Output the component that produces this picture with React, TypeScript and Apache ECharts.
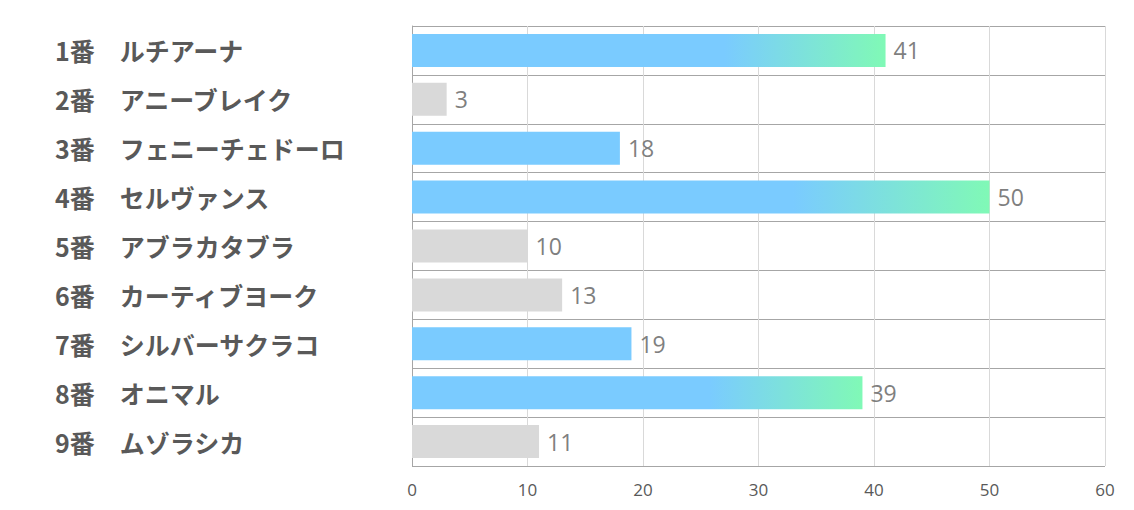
import React, { useEffect, useRef } from "react";
import * as echarts from "echarts";

const categories = [
  "1番　ルチアーナ",
  "2番　アニーブレイク",
  "3番　フェニーチェドーロ",
  "4番　セルヴァンス",
  "5番　アブラカタブラ",
  "6番　カーティブヨーク",
  "7番　シルバーサクラコ",
  "8番　オニマル",
  "9番　ムゾラシカ",
];
const values = [41, 3, 18, 50, 10, 13, 19, 39, 11];
// bar style: "grad" = blue with green fade, "blue" = plain blue, "gray" = gray
const styles = ["grad", "gray", "blue", "grad", "gray", "gray", "blue", "grad", "gray"];
const xTicks = { min: 0, max: 60, interval: 10 };

const BLUE = "#7acbff";
const GREEN = "#80f9b6";
const GRAY = "#d9d9d9";

export default function App() {
  const ref = useRef<HTMLDivElement>(null);
  useEffect(() => {
    const chart = echarts.init(ref.current!, null, { renderer: "svg" });
    const data = values.map((v, i) => {
      const s = styles[i];
      let color: any = GRAY;
      if (s === "blue") color = BLUE;
      if (s === "grad")
        color = new echarts.graphic.LinearGradient(0, 0, 1, 0, [
          { offset: 0, color: BLUE },
          { offset: 0.66, color: BLUE },
          { offset: 1, color: GREEN },
        ]);
      return { value: v, itemStyle: { color } };
    });
    chart.setOption({
      animation: false,
      grid: { left: 412, right: 29, top: 26, bottom: 44, containLabel: false },
      xAxis: {
        type: "value",
        min: xTicks.min,
        max: xTicks.max,
        interval: xTicks.interval,
        axisLine: { show: false },
        axisTick: { show: false },
        splitLine: { show: true, lineStyle: { color: "#d9d9d9", width: 1 } },
        axisLabel: {
          color: "#595959",
          fontSize: 17,
          margin: 15,
          fontFamily: "'Open Sans', 'Noto Sans', sans-serif",
        },
      },
      yAxis: {
        type: "category",
        data: categories,
        inverse: true,
        axisLine: { show: true, lineStyle: { color: "#a6a6a6" } },
        axisTick: { show: false },
        splitLine: { show: true, lineStyle: { color: "#a6a6a6", width: 1 } },
        axisLabel: {
          align: "left",
          margin: 357,
          color: "#595959",
          fontSize: 25,
          fontWeight: "bold",
          padding: [0, 0, 4, 0],
          fontFamily: "'Noto Sans CJK JP', sans-serif",
        },
      },
      series: [
        {
          type: "bar",
          data,
          barWidth: 33,
          label: {
            show: true,
            position: "right",
            distance: 8,
            color: "#7f7f7f",
            fontSize: 23,
            fontFamily: "'Open Sans', 'Noto Sans', sans-serif",
          },
        },
      ],
    });
    return () => chart.dispose();
  }, []);
  return <div ref={ref} style={{ width: 1134, height: 510, position: "absolute", left: 0, top: 0 }} />;
}
